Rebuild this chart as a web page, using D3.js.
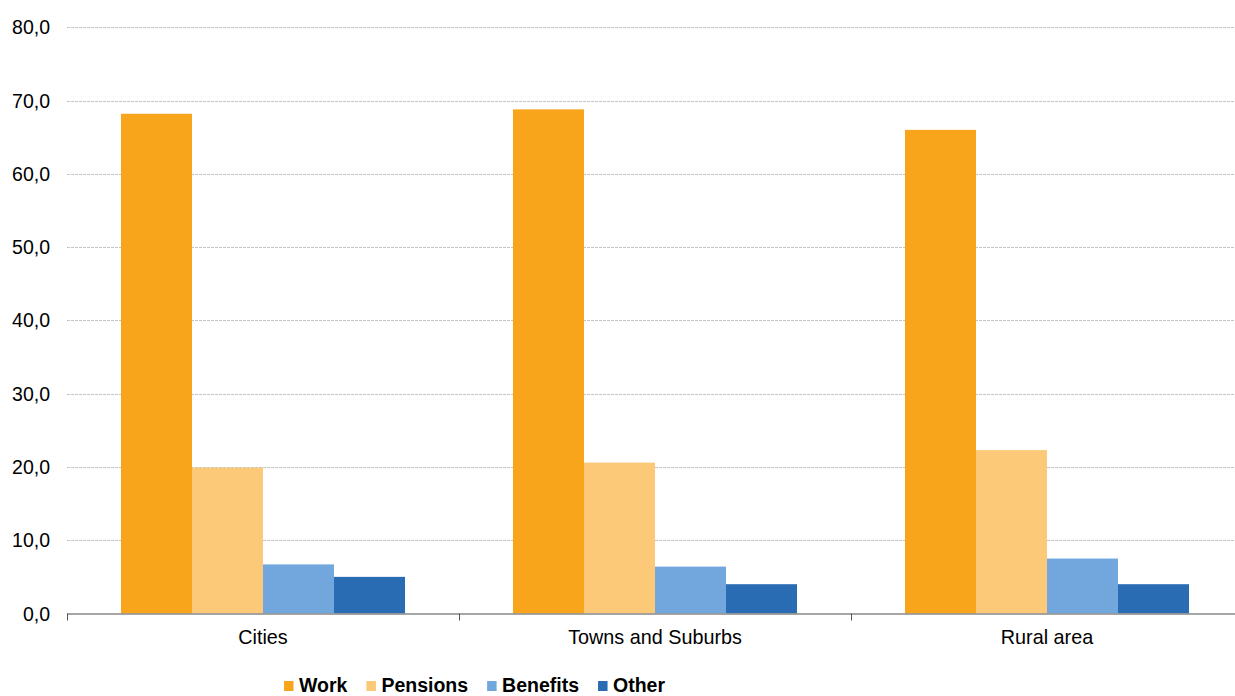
<!DOCTYPE html>
<html>
<head>
<meta charset="utf-8">
<script src="https://cdn.jsdelivr.net/npm/d3@7"></script>
<style>
  html, body { margin: 0; padding: 0; background: #fff; }
  svg { display: block; }
  text { font-family: "Liberation Sans", Arial, sans-serif; fill: #000; }
</style>
</head>
<body>
<svg id="chart" width="1235" height="696"></svg>
<script>
const categories = ["Cities", "Towns and Suburbs", "Rural area"];
const seriesNames = ["Work", "Pensions", "Benefits", "Other"];
const seriesColors = ["#F9A51B", "#FBC977", "#72A7DE", "#2A6CB3"];
const work = [68.2, 68.8, 66.0];
const pensions = [19.9, 20.6, 22.3];
const benefits = [6.7, 6.4, 7.5];
const other = [5.0, 4.0, 4.0];
const yTicks = [0, 10, 20, 30, 40, 50, 60, 70, 80];

(function () {
const seriesValues = [work, pensions, benefits, other];
const svg = d3.select("#chart");

const mLeft = 67, mRight = 1243, mTop = 27.3, mBottom = 613.5;
const x = d3.scaleBand().domain(categories).range([mLeft, mRight]).paddingInner(0).paddingOuter(0);
const groupPad = 54;
const xs = d3.scaleBand().domain(seriesNames).range([groupPad, x.bandwidth() - groupPad]).padding(0);
const y = d3.scaleLinear().domain([0, 80]).range([mBottom, mTop]);

// gridlines
svg.append("g").selectAll("line").data(yTicks.filter(d => d > 0)).join("line")
  .attr("x1", mLeft).attr("x2", 1235)
  .attr("y1", d => Math.round(y(d)) + 0.5).attr("y2", d => Math.round(y(d)) + 0.5)
  .attr("stroke", "#c4c4c4").attr("stroke-width", 1).attr("stroke-dasharray", "3,1");

// y tick labels
svg.append("g").selectAll("text").data(yTicks).join("text")
  .attr("x", 50).attr("y", d => y(d))
  .attr("dy", "0.36em")
  .attr("text-anchor", "end")
  .style("font-size", "19.5px")
  .text(d => d3.format(".1f")(d).replace(".", ","));

// bars
const rows = categories.map((c, i) => ({ cat: c, vals: seriesNames.map((s, j) => ({ s, v: seriesValues[j][i], color: seriesColors[j] })) }));
const g = svg.append("g").selectAll("g").data(rows).join("g")
  .attr("transform", d => `translate(${x(d.cat)},0)`);
g.selectAll("rect").data(d => d.vals).join("rect")
  .attr("x", d => xs(d.s)).attr("width", xs.bandwidth())
  .attr("y", d => y(d.v)).attr("height", d => y(0) - y(d.v))
  .attr("fill", d => d.color);

// x axis line
svg.append("line").attr("x1", mLeft).attr("x2", 1235).attr("y1", mBottom + 0.5).attr("y2", mBottom + 0.5)
  .attr("stroke", "#878787").attr("stroke-width", 1.6);
// tick marks between categories
const tickPos = categories.map(c => x(c)).concat([x(categories[categories.length - 1]) + x.bandwidth()]);
svg.append("g").selectAll("line").data(tickPos).join("line")
  .attr("x1", d => Math.round(d) + 0.5).attr("x2", d => Math.round(d) + 0.5)
  .attr("y1", mBottom).attr("y2", mBottom + 7)
  .attr("stroke", "#555").attr("stroke-width", 1);

// category labels
svg.append("g").selectAll("text").data(categories).join("text")
  .attr("x", d => x(d) + x.bandwidth() / 2).attr("y", 644)
  .attr("text-anchor", "middle")
  .style("font-size", "19.8px")
  .text(d => d);

// legend
const leg = svg.append("g");
let lx = 284;
seriesNames.forEach((s, i) => {
  leg.append("rect").attr("x", lx).attr("y", 681).attr("width", 9.5).attr("height", 10).attr("fill", seriesColors[i]);
  const t = leg.append("text").attr("x", lx + 15).attr("y", 692)
    .style("font-size", "19.5px").style("font-weight", "bold").text(s);
  const w = t.node().getComputedTextLength();
  lx = lx + 15 + w + 19;
});
})();
</script>
</body>
</html>
